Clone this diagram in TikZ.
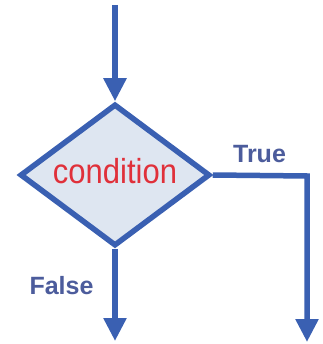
\documentclass[tikz,border=0pt]{standalone}
\usepackage{fontspec}
\setmainfont{Liberation Sans}
\usetikzlibrary{shapes.geometric,arrows.meta}
\definecolor{flowblue}{HTML}{3A60B2}
\definecolor{diafill}{HTML}{DEE6F1}
\definecolor{condred}{HTML}{E0303A}
\definecolor{labblue}{HTML}{4C5C9C}
\tikzset{
  flow/.style={draw=flowblue, line width=5.5pt},
  flowarrow/.style={flow, -{Triangle[length=23pt,width=22pt]}},
  decision/.style={diamond, draw=flowblue, fill=diafill, line width=5.5pt,
    minimum width=190pt, minimum height=142pt, inner sep=0pt, aspect=1.34},
  condtext/.style={text=condred, font=\fontsize{31}{31}\selectfont, inner sep=0pt},
  branchlabel/.style={text=labblue, font=\bfseries\fontsize{25}{25}\selectfont, inner sep=0pt}
}
\begin{document}
\begin{tikzpicture}[x=1pt,y=-1pt]
  \useasboundingbox (0,0) rectangle (322,344);
  \node[decision] (d) at (115,175) {};
  \node[condtext, anchor=base] (ct) at ([yshift=-8pt]d.center) {\scalebox{1}[1.12]{condition}};
  \coordinate (start) at (115,5);
  \coordinate (corner) at (307,176);
  \coordinate (trueend) at (307,342);
  \coordinate (falseend) at (115,341);
  \draw[flowarrow] (start) -- (d.north);
  \draw[flowarrow] (d.east) -- (corner) -- (trueend);
  \draw[flowarrow] (d.south) -- (falseend);
  \node[branchlabel, anchor=base] (tl) at (259.5,163) {True};
  \node[branchlabel, anchor=base] (fl) at (61.5,294) {False};
\end{tikzpicture}
\end{document}
